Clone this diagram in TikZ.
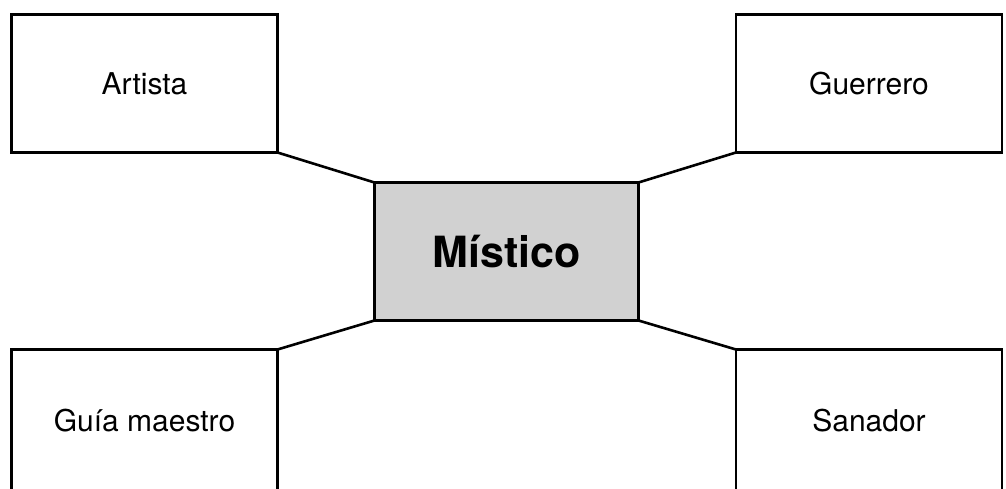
\documentclass[tikz,border=0pt]{standalone}
\usepackage{fontspec}
\setmainfont{TeX Gyre Heros}

\begin{document}
\begin{tikzpicture}[x=1pt, y=-1pt, line width=2.6pt,
  rolebox/.style={draw, rectangle, outer sep=0pt, minimum width=266pt,
    minimum height=138pt, font=\fontsize{30}{36}\selectfont},
  centerbox/.style={rolebox, fill=black!18, minimum width=264pt,
    font=\fontsize{43}{50}\selectfont\bfseries}]
  \useasboundingbox (0, 0) rectangle (1006, 489);
  \clip (0, 0) rectangle (1006, 489);

  \node[rolebox]   (artista)  at (144.5, 83.5)  {Artista};
  \node[rolebox]   (guerrero) at (869, 83.5)    {Guerrero};
  \node[centerbox] (mistico)  at (506.5, 251.5) {Místico};
  \node[rolebox, minimum height=142pt] (guia)    at (144.5, 420.5) {Guía maestro};
  \node[rolebox, minimum height=142pt] (sanador) at (869, 420.5)   {Sanador};

  \draw (artista.south east) -- (mistico.north west);
  \draw (guerrero.south west) -- (mistico.north east);
  \draw (guia.north east) -- (mistico.south west);
  \draw (sanador.north west) -- (mistico.south east);
\end{tikzpicture}
\end{document}
